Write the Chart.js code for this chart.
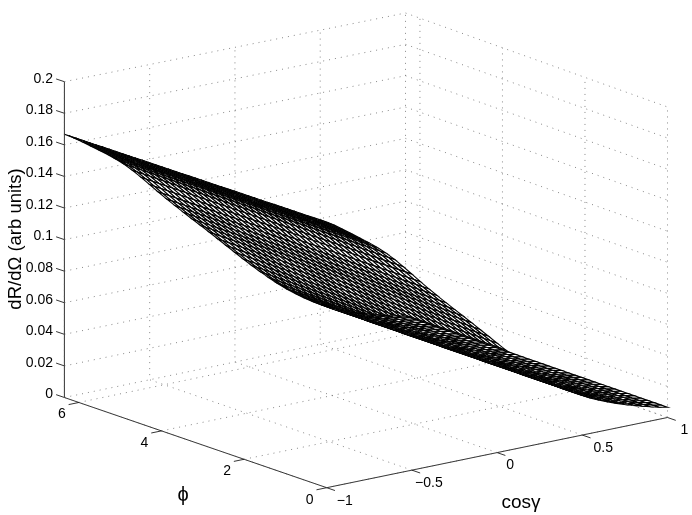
<!DOCTYPE html>
<html>
<head>
<meta charset="utf-8">
<style>
  html, body { margin: 0; padding: 0; background: #fff; }
  #wrap { position: relative; width: 692px; height: 515px; }
</style>
<script src="https://cdn.jsdelivr.net/npm/chart.js@4/dist/chart.umd.min.js"></script>
</head>
<body>
<div id="wrap"><canvas id="chart" width="692" height="515"></canvas></div>
<script>
// values
var cosGamma = [-1,-0.95,-0.9,-0.85,-0.8,-0.75,-0.7,-0.65,-0.6,-0.55,-0.5,-0.45,-0.4,-0.35,-0.3,-0.25,-0.2,-0.15,-0.1,-0.05,0,
  0.05,0.1,0.15,0.2,0.25,0.3,0.35,0.4,0.45,0.5,0.55,0.6,0.65,0.7,0.75,0.8,0.85,0.9,0.95,1];
var phiValues = [0,0.16,0.32,0.48,0.64,0.8,0.96,1.12,1.28,1.44,1.6,1.76,1.92,2.08,2.24,2.4,2.56,2.72,2.88,3.04,3.2,
  3.36,3.52,3.68,3.84,4,4.16,4.32,4.48,4.64,4.8,4.96,5.12,5.28,5.44,5.6,5.76,5.92,6.08,6.24,6.35];
var dRdOmega = [0.1667,0.1635,0.1599,0.1562,0.1524,0.1486,0.1445,0.14,0.135,0.1295,0.1238,0.118,0.1124,0.107,0.1016,0.0963,0.0911,0.0858,0.0804,0.075,0.0696,
  0.0642,0.059,0.0539,0.049,0.0443,0.0399,0.0358,0.032,0.0285,0.0253,0.0225,0.02,0.0178,0.0158,0.014,0.0123,0.0107,0.0092,0.0078,0.0066];

var zTicks = [0,0.02,0.04,0.06,0.08,0.1,0.12,0.14,0.16,0.18,0.2];
var zTickLabels = ['0','0.02','0.04','0.06','0.08','0.1','0.12','0.14','0.16','0.18','0.2'];
var cosTicks = [-1,-0.5,0,0.5,1];
var cosTickLabels = ['\u22121','\u22120.5','0','0.5','1'];
var phiTicks = [0,2,4,6];
var phiTickLabels = ['0','2','4','6'];

var phiMax = 6.35, zMax = 0.2;

// axes box as seen on screen: front, right, left and back corners, floor and top
var floorPts = { front:[326.7,487.7], right:[667.5,417.5], left:[64.4,397.5], back:[405.5,326.5] };
var topPts = { front:[326.7,169], right:[667.5,107], left:[64.4,81.7], back:[405.5,13] };

function mix(a, b, t) { return [a[0]+(b[0]-a[0])*t, a[1]+(b[1]-a[1])*t]; }
function project(c, p, z) {
  var u = (c+1)/2, v = p/phiMax, w = z/zMax;
  var lo = mix(mix(floorPts.front, floorPts.right, u), mix(floorPts.left, floorPts.back, u), v);
  var hi = mix(mix(topPts.front, topPts.right, u), mix(topPts.left, topPts.back, u), v);
  var q = mix(lo, hi, w);
  return { x:q[0], y:q[1] };
}

var datasets = [];
function addLine(pts, color, width, dash) {
  datasets.push({ data:pts, borderColor:color, borderWidth:width, borderDash:dash||[], pointRadius:0, fill:false, tension:0 });
}

// dotted grid, floor and the two back walls
var gridCol = '#555', dots = [1,5];
cosTicks.forEach(function(c) {
  addLine([project(c,0,0), project(c,phiMax,0), project(c,phiMax,zMax)], gridCol, 0.7, dots);
});
phiTicks.forEach(function(p) {
  addLine([project(-1,p,0), project(1,p,0), project(1,p,zMax)], gridCol, 0.7, dots);
});
zTicks.forEach(function(z) {
  addLine([project(-1,phiMax,z), project(1,phiMax,z), project(1,0,z)], gridCol, 0.7, dots);
});

// mesh cells, far ones first so nearer cells cover them
var cells = [];
for (var i = 0; i < cosGamma.length-1; i++) {
  for (var j = 0; j < phiValues.length-1; j++) {
    cells.push({ i:i, j:j, depth:(i+0.5)/(cosGamma.length-1) + (j+0.5)/(phiValues.length-1) });
  }
}
cells.sort(function(a,b){ return b.depth-a.depth; });
cells.forEach(function(k) {
  var c0=cosGamma[k.i], c1=cosGamma[k.i+1], p0=phiValues[k.j], p1=phiValues[k.j+1];
  var z0=dRdOmega[k.i], z1=dRdOmega[k.i+1];
  var a=project(c0,p0,z0);
  datasets.push({
    data:[a, project(c1,p0,z1), project(c1,p1,z1), project(c0,p1,z0), a],
    borderColor:'#000', borderWidth:1.1, backgroundColor:'#fff', fill:'shape', pointRadius:0, tension:0
  });
});

// axis lines and tick marks
addLine([project(-1,phiMax,0), project(-1,phiMax,zMax)], '#333', 1);
addLine([project(-1,phiMax,0), project(-1,0,0), project(1,0,0)], '#000', 0.8);
var tickC = 0.06, tickP = 0.2;
zTicks.forEach(function(z) { addLine([project(-1,phiMax,z), project(-1,phiMax+tickP,z)], '#000', 0.8); });
cosTicks.forEach(function(c) { addLine([project(c,0,0), project(c,-tickP,0)], '#000', 0.8); });
phiTicks.forEach(function(p) { addLine([project(-1,p,0), project(-1-tickC,p,0)], '#000', 0.8); });

var labelPlugin = {
  id:'labels3d',
  afterDatasetsDraw:function(chart) {
    var ctx = chart.ctx, sx = chart.scales.x, sy = chart.scales.y;
    function put(text, x, y) { ctx.fillText(text, sx.getPixelForValue(x), sy.getPixelForValue(y)); }
    ctx.save();
    ctx.fillStyle = '#000';
    ctx.textBaseline = 'middle';
    ctx.font = '14px "Liberation Sans", Arial, sans-serif';
    ctx.textAlign = 'right';
    zTicks.forEach(function(z,n) { var q=project(-1,phiMax,z); put(zTickLabels[n], 53, q.y-3); });
    ctx.textAlign = 'center';
    var cosNudge = [18,17,13,21,17];
    cosTicks.forEach(function(c,n) { var q=project(c,0,0); put(cosTickLabels[n], q.x+cosNudge[n], q.y+13); });
    phiTicks.forEach(function(p,n) { var q=project(-1,p,0); put(phiTickLabels[n], q.x-17, q.y+12); });
    ctx.font = '19px "Liberation Sans", Arial, sans-serif';
    put('cos\u03b3', 521, 503);
    ctx.font = '20px "Liberation Sans", Arial, sans-serif';
    put('\u03d5', 183, 495);
    ctx.font = '18.5px "Liberation Sans", Arial, sans-serif';
    ctx.translate(sx.getPixelForValue(16), sy.getPixelForValue(239));
    ctx.rotate(-Math.PI/2);
    ctx.fillText('dR/d\u03a9 (arb units)', 0, 0);
    ctx.restore();
  }
};

new Chart(document.getElementById('chart'), {
  type:'line',
  data:{ datasets:datasets },
  options:{
    responsive:false,
    animation:false,
    parsing:false,
    normalized:true,
    layout:{ padding:0 },
    plugins:{ legend:{display:false}, tooltip:{enabled:false} },
    scales:{
      x:{ type:'linear', min:0, max:692, display:false },
      y:{ type:'linear', min:0, max:515, reverse:true, display:false }
    }
  },
  plugins:[labelPlugin]
});
</script>
</body>
</html>
